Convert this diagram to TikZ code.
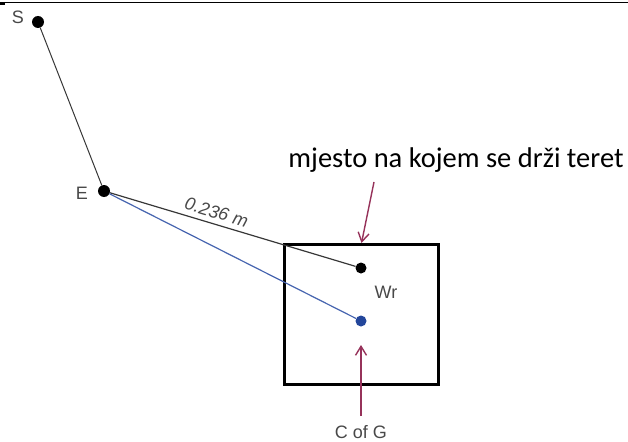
\documentclass[tikz,border=0pt]{standalone}
\usepackage{fontspec}
\setmainfont{Liberation Sans}
\newfontfamily\calibrifont{Carlito}
\usetikzlibrary{arrows.meta}
\definecolor{lblgray}{RGB}{72,72,72}
\definecolor{linegray}{RGB}{55,55,55}
\definecolor{cgblue}{RGB}{35,70,155}
\definecolor{lineblue}{RGB}{70,100,175}
\definecolor{pointer}{RGB}{150,50,90}
\tikzset{
  dot/.style={circle,fill=black,inner sep=0pt,minimum size=12pt},
  lbl/.style={text=lblgray,font=\fontsize{18}{20}\selectfont,inner sep=0pt},
  pointarrow/.style={pointer,line width=1.4pt,-{Straight Barb[length=9pt,width=11pt]}}
}
\begin{document}
\begin{tikzpicture}[x=1pt,y=-1pt]
\useasboundingbox (0,0) rectangle (628,441);
% rule at the top
\draw[line width=1pt] (0,3)--(628,3);
\draw[line width=3pt] (0,4)--(5,4);
% the box
\node[draw,line width=3pt,minimum width=154pt,minimum height=140pt,inner sep=0pt] (box) at (361.5,314.5){};
% points
\node[dot] (S) at (38,22){};
\node[dot] (E) at (104,191){};
\node[dot,minimum size=11pt] (Wr) at (361,268){};
\node[dot,fill=cgblue,minimum size=11pt] (G) at (361,321){};
\node[lbl] (Slbl) at (18,17){S};
\node[lbl] (Elbl) at (82,193){E};
\node[lbl] (Wrlbl) at (386,292){Wr};
\node[lbl] (CGlbl) at (361,432){C of G};
\node[font=\calibrifont\fontsize{28.5}{32}\selectfont,inner sep=0pt] (held) at (456,160){mjesto na kojem se drži teret};
\coordinate (heldtail) at (374,182);
\coordinate (cgtail) at (361,416);
\coordinate (cgtip) at (361,345);
% connectors
\draw[linegray,line width=1pt] (S)--(E);
\draw[linegray,line width=1.2pt] (E)--node[sloped,above=5pt,pos=0.42,lbl,font=\itshape\fontsize{18}{20}\selectfont]{0.236 m}(Wr);
\draw[lineblue,line width=1.2pt] (E)--(G);
\draw[pointarrow] (heldtail)--(box.north);
\draw[pointarrow] (cgtail)--(cgtip);
\end{tikzpicture}
\end{document}
